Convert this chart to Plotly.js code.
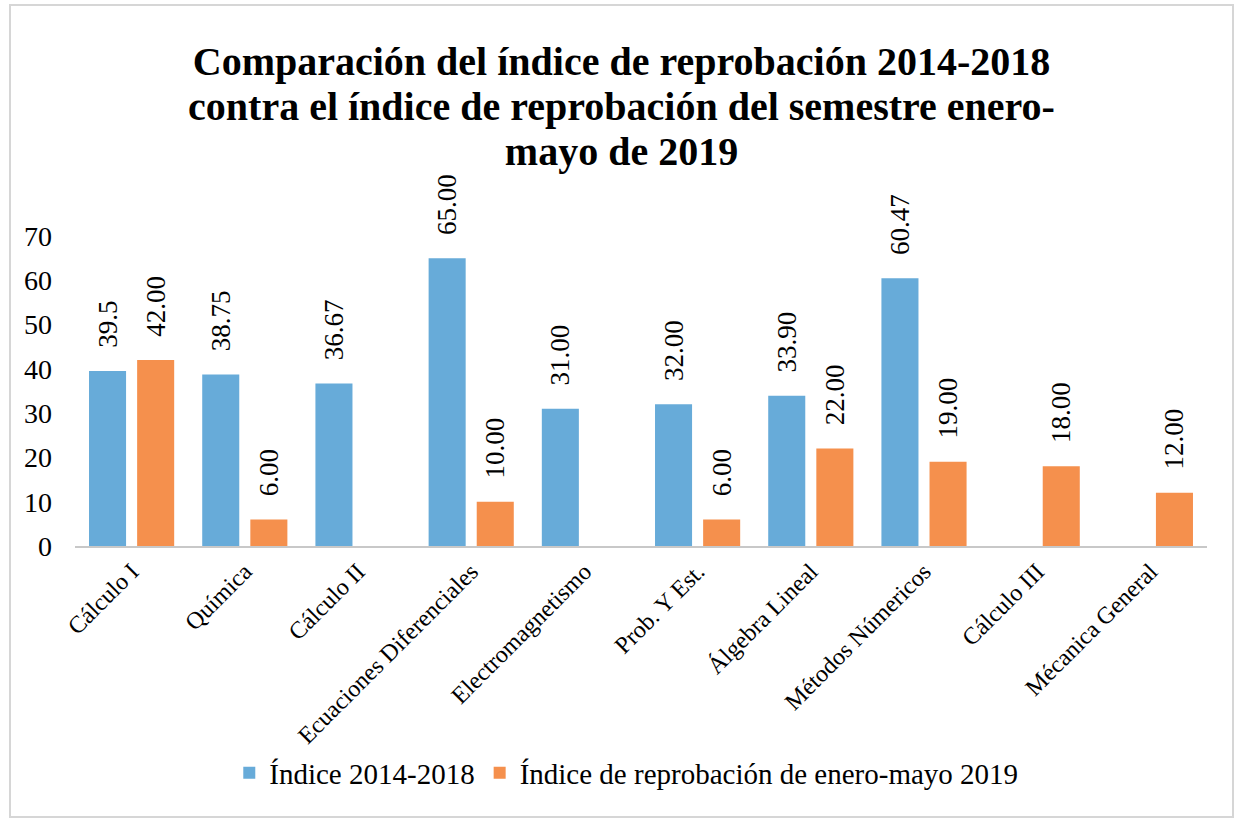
<!DOCTYPE html>
<html>
<head>
<meta charset="utf-8">
<script src="https://cdn.plot.ly/plotly-3.0.1.min.js"></script>
<style>
  html, body { margin: 0; padding: 0; background: #ffffff; }
  #frame { position: absolute; left: 9px; top: 4px; border: 2px solid #d6d6d6; width: 1221px; height: 810px; }
  #chart { width: 1221px; height: 810px; }
</style>
</head>
<body>
<div id="frame"><div id="chart"></div></div>
<script>
const categories = ["Cálculo I", "Química", "Cálculo II", "Ecuaciones Diferenciales", "Electromagnetismo",
                    "Prob. Y Est.", "Álgebra Lineal", "Métodos Númericos", "Cálculo III", "Mécanica General"];
const indice20142018 = [39.5, 38.75, 36.67, 65.00, 31.00, 32.00, 33.90, 60.47, null, null];
const indice2019 = [42.00, 6.00, null, 10.00, null, 6.00, 22.00, 19.00, 18.00, 12.00];
const labels20142018 = ["39.5", "38.75", "36.67", "65.00", "31.00", "32.00", "33.90", "60.47", "", ""];
const labels2019 = ["42.00", "6.00", "", "10.00", "", "6.00", "22.00", "19.00", "18.00", "12.00"];
const yTicks = [0, 10, 20, 30, 40, 50, 60, 70];

const FONT = "Liberation Serif, Times New Roman, serif";
// non-breaking spaces keep the rotated labels a little above the bars
const PAD = "\u00a0\u00a0\u00a0";
const padLabel = s => (s ? PAD + s : "");

const traces = [
  {
    type: "bar", name: "Índice 2014-2018", x: categories, y: indice20142018,
    text: labels20142018.map(padLabel), textposition: "outside", textangle: -90, constraintext: "none",
    cliponaxis: false, textfont: { family: FONT, size: 27, color: "#000" },
    marker: { color: "#67abd9" }, hoverinfo: "x+y"
  },
  {
    type: "bar", name: "Índice de reprobación de enero-mayo 2019", x: categories, y: indice2019,
    text: labels2019.map(padLabel), textposition: "outside", textangle: -90, constraintext: "none",
    cliponaxis: false, textfont: { family: FONT, size: 27, color: "#000" },
    marker: { color: "#f5904d" }, hoverinfo: "x+y"
  }
];

const S = t => '<span style="font-size:40px">' + t + '</span>';

const layout = {
  width: 1221, height: 810,
  margin: { l: 64, r: 25, t: 230, b: 270, autoexpand: false },
  paper_bgcolor: "#ffffff", plot_bgcolor: "#ffffff",
  font: { family: FONT, color: "#000", size: 22 },
  title: {
    text: "<b>" + S("Comparación del índice de reprobación 2014-2018") + "<br>" +
          S("contra el índice de reprobación del semestre enero-") + "<br>" +
          S("mayo de 2019") + "</b>",
    font: { family: FONT, size: 34.6, color: "#000" },
    x: 0.5, xanchor: "center", xref: "container",
    y: 1 - 69 / 810, yanchor: "top", yref: "container"
  },
  barmode: "group", bargap: 0.15, bargroupgap: 0.23,
  xaxis: {
    type: "category", tickangle: -45, showgrid: false, zeroline: false,
    showline: true, linecolor: "#c8c8c8", linewidth: 2, ticks: "",
    tickfont: { family: FONT, size: 24, color: "#000" }
  },
  yaxis: {
    range: [0, 70], tickvals: yTicks, ticktext: yTicks.map(String),
    showgrid: false, zeroline: false, showline: false, ticks: "",
    ticklabelstandoff: 22,
    tickfont: { family: FONT, size: 28, color: "#000" }
  },
  legend: {
    orientation: "h", x: 0.487, xanchor: "center", y: -0.732, yanchor: "middle",
    font: { family: FONT, size: 29, color: "#000" }, itemwidth: 30
  },
  showlegend: true
};

Plotly.newPlot("chart", traces, layout, { displayModeBar: false, staticPlot: true });
</script>
</body>
</html>
